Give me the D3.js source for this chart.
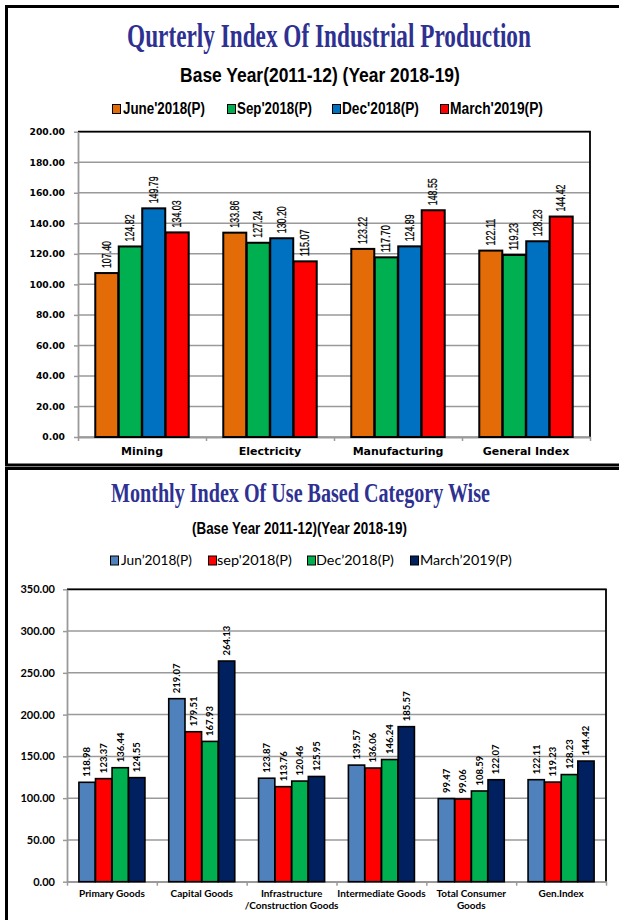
<!DOCTYPE html>
<html>
<head>
<meta charset="utf-8">
<script src="https://cdn.jsdelivr.net/npm/d3@7"></script>
<style>
  html, body { margin: 0; padding: 0; background: #fff; }
  svg { display: block; }
</style>
</head>
<body>
<svg id="chart" width="619" height="920"></svg>
<script>
// ---------- DATA (top chart) ----------
const topCategories = ["Mining", "Electricity", "Manufacturing", "General Index"];
const topSeriesNames = ["June'2018(P)", "Sep'2018(P)", "Dec'2018(P)", "March'2019(P)"];
const topJune2018  = [107.40, 133.86, 123.22, 122.11];
const topSep2018   = [124.82, 127.24, 117.70, 119.23];
const topDec2018   = [149.79, 130.20, 124.89, 128.23];
const topMarch2019 = [134.03, 115.07, 148.55, 144.42];
const topTicks = [0, 20, 40, 60, 80, 100, 120, 140, 160, 180, 200];

// ---------- DATA (bottom chart) ----------
const useCategories = ["Primary Goods", "Capital Goods", "Infrastructure\n/Construction Goods",
                       "Intermediate Goods", "Total Consumer\nGoods", "Gen.Index"];
const useSeriesNames = ["Jun\u20192018(P)", "sep'2018(P)", "Dec\u20192018(P)", "March\u20192019(P)"];
const useJun2018   = [118.98, 219.07, 123.87, 139.57, 99.47, 122.11];
const useSep2018   = [123.37, 179.51, 113.76, 136.06, 99.06, 119.23];
const useDec2018   = [136.44, 167.93, 120.46, 146.24, 108.59, 128.23];
const useMarch2019 = [124.55, 264.13, 125.95, 185.57, 122.07, 144.42];
const useTicks = [0, 50, 100, 150, 200, 250, 300, 350];

// ---------- DRAWING ----------
const svg = d3.select("#chart");
svg.append("rect").attr("width", 619).attr("height", 920).attr("fill", "#fff");

// panel frames
svg.append("path").attr("d", "M640,6.5 H6.5 V465 H640").attr("fill", "none").attr("stroke", "#000").attr("stroke-width", 3);
svg.append("path").attr("d", "M640,468.5 H6.5 V930").attr("fill", "none").attr("stroke", "#000").attr("stroke-width", 3);

const TITLE_COLOR = "#2E3192";

// text horizontally scaled to a target width (condensed look)
function fitText(txt, cx, y, size, len, opts) {
  const g = svg.append("g");
  const t = g.append("text")
    .attr("x", 0).attr("y", 0)
    .attr("text-anchor", opts.anchor || "middle")
    .attr("font-family", opts.family)
    .attr("font-weight", opts.weight || "bold")
    .attr("font-size", size)
    .attr("fill", opts.color || "#000")
    .text(txt);
  if (opts.dy) t.attr("dy", opts.dy);
  const natural = t.node().getComputedTextLength() || len;
  const sx = len / natural;
  g.attr("transform", `translate(${cx},${y}) scale(${sx},1)`);
  return t;
}

// Titles
fitText("Qurterly Index Of Industrial Production", 329, 47, 33, 404,
  {family: "'Liberation Serif', 'Times New Roman', serif", color: TITLE_COLOR});
fitText("Base Year(2011-12) (Year 2018-19)", 320, 82, 20, 280,
  {family: "'Liberation Sans Narrow', 'Liberation Sans', Arial, sans-serif"});
fitText("Monthly Index Of Use Based Category Wise", 300.5, 502, 27, 379,
  {family: "'Liberation Serif', 'Times New Roman', serif", color: TITLE_COLOR});
fitText("(Base Year 2011-12)(Year 2018-19)", 299.5, 534, 16, 215,
  {family: "'Liberation Sans Narrow', 'Liberation Sans', Arial, sans-serif"});

// Legends
function legend(items, y, opts) {
  items.forEach(it => {
    svg.append("rect")
      .attr("x", it.sx + 0.5).attr("y", y - opts.sq / 2 + 0.5)
      .attr("width", opts.sqw).attr("height", opts.sq)
      .attr("fill", it.color).attr("stroke", "#000").attr("stroke-width", 1);
    fitText(it.name, it.tx, y, opts.size, it.len,
      {family: opts.family, weight: opts.weight, anchor: "start", dy: "0.35em"});
  });
}

const topColors = ["#E36C09", "#00B050", "#0070C0", "#FF0000"];
const useColors = ["#4F81BD", "#FF0000", "#00B050", "#002060"];

legend([
  {name: topSeriesNames[0], color: topColors[0], sx: 112, tx: 123, len: 82},
  {name: topSeriesNames[1], color: topColors[1], sx: 227, tx: 237, len: 75},
  {name: topSeriesNames[2], color: topColors[2], sx: 332, tx: 342, len: 77},
  {name: topSeriesNames[3], color: topColors[3], sx: 440, tx: 450, len: 93}
], 108.5, {family: "'Liberation Sans Narrow', 'Liberation Sans', Arial, sans-serif", weight: "bold", size: 17, sq: 9, sqw: 8});

legend([
  {name: useSeriesNames[0], color: useColors[0], sx: 110, tx: 121, len: 71},
  {name: useSeriesNames[1], color: useColors[1], sx: 208, tx: 217, len: 75},
  {name: useSeriesNames[2], color: useColors[2], sx: 307, tx: 316, len: 78},
  {name: useSeriesNames[3], color: useColors[3], sx: 410, tx: 420, len: 92}
], 560, {family: "Lato, 'Open Sans', sans-serif", weight: "normal", size: 14, sq: 9, sqw: 8});

function drawChart(cfg) {
  const g = svg.append("g");
  const n = cfg.categories.length;
  const x0 = d3.scaleBand().domain(cfg.categories).range([cfg.left, cfg.right])
    .paddingInner(cfg.pad).paddingOuter(cfg.pad / 2);
  const x1 = d3.scaleBand().domain(d3.range(cfg.values.length)).range([0, x0.bandwidth()]).paddingInner(0.02);
  const y = d3.scaleLinear().domain([0, cfg.max]).range([cfg.bottom, cfg.top]);

  // gridlines
  g.append("g").selectAll("line").data(cfg.ticks).join("line")
    .attr("x1", cfg.left).attr("x2", cfg.right)
    .attr("y1", d => y(d)).attr("y2", d => y(d))
    .attr("stroke", "#9A9A9A").attr("stroke-width", 1.5);

  // plot frame (top & right black)
  g.append("path")
    .attr("d", `M${cfg.left},${y(cfg.max)} H${cfg.right} V${y(0)}`)
    .attr("fill", "none").attr("stroke", "#000").attr("stroke-width", 1.8);

  // y axis
  const ya = g.append("g").attr("transform", `translate(${cfg.left},0)`)
    .call(d3.axisLeft(y).tickValues(cfg.ticks).tickFormat(d => d.toFixed(2))
      .tickSizeInner(4).tickSizeOuter(0).tickPadding(cfg.yPad));
  ya.select(".domain").attr("stroke", "#9A9A9A").attr("stroke-width", 1.8);
  ya.selectAll(".tick line").attr("stroke", "#9A9A9A").attr("stroke-width", 1.5);
  ya.selectAll(".tick text").attr("font-family", cfg.yFont).attr("font-weight", "bold")
    .attr("font-size", cfg.ySize).attr("fill", "#000");

  // x axis boundary ticks
  const xb = d3.scaleLinear().domain([0, n]).range([cfg.left, cfg.right]);
  const xa = g.append("g").attr("transform", `translate(0,${y(0)})`)
    .call(d3.axisBottom(xb).tickValues(d3.range(n + 1)).tickFormat("").tickSizeInner(4).tickSizeOuter(0));
  xa.select(".domain").attr("stroke", "#9A9A9A").attr("stroke-width", 1.8);
  xa.selectAll(".tick line").attr("stroke", "#9A9A9A").attr("stroke-width", 1.5);

  // category labels
  const xl = g.append("g").attr("transform", `translate(0,${y(0)})`)
    .call(d3.axisBottom(x0).tickSize(0).tickPadding(cfg.xPad));
  xl.select(".domain").remove();
  xl.selectAll(".tick text").each(function(d) {
    const t = d3.select(this);
    t.text(null).attr("font-family", cfg.xFont).attr("font-weight", "bold")
      .attr("font-size", cfg.xSize).attr("fill", "#000");
    d.split("\n").forEach((line, i) => {
      t.append("tspan").attr("x", 0).attr("dy", i === 0 ? "0.71em" : cfg.lineH).text(line);
    });
  });

  // bars
  cfg.values.forEach((vals, si) => {
    const sg = g.append("g");
    sg.selectAll("rect").data(vals).join("rect")
      .attr("x", (d, i) => x0(cfg.categories[i]) + x1(si))
      .attr("y", d => y(d))
      .attr("width", x1.bandwidth())
      .attr("height", d => y(0) - y(d))
      .attr("fill", cfg.colors[si])
      .attr("stroke", "#000").attr("stroke-width", cfg.barStroke);
    sg.selectAll("text").data(vals).join("text")
      .attr("transform", (d, i) => `translate(${x0(cfg.categories[i]) + x1(si) + x1.bandwidth() / 2},${y(d) - cfg.labelGap}) rotate(-90)`)
      .attr("dy", "0.35em")
      .attr("text-anchor", "start")
      .attr("font-family", cfg.vFont).attr("font-weight", cfg.vWeight)
      .attr("font-size", cfg.vSize).attr("fill", "#000")
      .attr("stroke", cfg.vStroke ? "#000" : null).attr("stroke-width", cfg.vStroke || null)
      .each(function(d) {
        if (cfg.vLen) d3.select(this).attr("textLength", cfg.vLen * d.toFixed(2).length / 6).attr("lengthAdjust", "spacingAndGlyphs");
      })
      .text(d => d.toFixed(2));
  });
}

drawChart({
  categories: topCategories,
  values: [topJune2018, topSep2018, topDec2018, topMarch2019],
  colors: topColors,
  ticks: topTicks, max: 200,
  left: 78, right: 590, top: 131.7, bottom: 437,
  pad: 0.27,
  yFont: "'DejaVu Sans', Verdana, sans-serif", ySize: 9.2, yPad: 9,
  xFont: "'DejaVu Sans', Verdana, sans-serif", xSize: 11, xPad: 10, lineH: "1.2em",
  vFont: "'Liberation Sans Narrow', 'Liberation Sans', Arial, sans-serif", vWeight: "normal", vSize: 12, vLen: 27, vStroke: 0.25,
  labelGap: 5, barStroke: 2
});

drawChart({
  categories: useCategories,
  values: [useJun2018, useSep2018, useDec2018, useMarch2019],
  colors: useColors,
  ticks: useTicks, max: 350,
  left: 67, right: 606, top: 589.3, bottom: 881.7,
  pad: 0.265,
  yFont: "Lato, 'Open Sans', sans-serif", ySize: 11, yPad: 8,
  xFont: "Lato, 'Open Sans', sans-serif", xSize: 10, xPad: 8, lineH: "1.25em",
  vFont: "Lato, 'Open Sans', sans-serif", vWeight: "bold", vSize: 9.5, vLen: null,
  labelGap: 5.5, barStroke: 1.6
});
</script>
</body>
</html>
